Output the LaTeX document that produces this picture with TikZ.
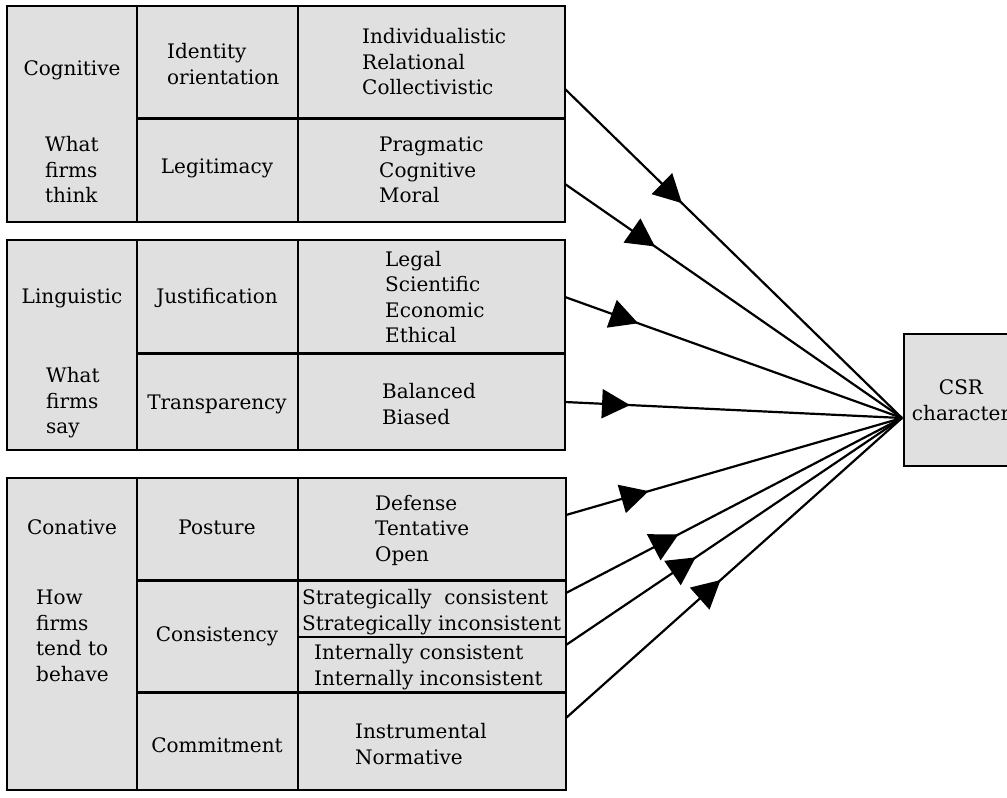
\documentclass[tikz,border=0pt]{standalone}
\usepackage{fontspec}
\setmainfont{DejaVu Serif}
\usetikzlibrary{arrows.meta,decorations.markings}
\definecolor{cellgray}{RGB}{224,224,224}
\tikzset{
  groupbox/.style={fill=cellgray, draw=black, line width=1.5pt},
  thickrule/.style={line width=3pt},
  thinrule/.style={line width=1.3pt},
  lbl/.style={font=\fontsize{20}{25.5}\selectfont, inner sep=0pt, align=center},
  lbll/.style={font=\fontsize{20}{25.5}\selectfont, inner sep=0pt, align=left, anchor=west},
  link/.style={line width=2.2pt, draw=black},
  midtri/.style={postaction={decorate, decoration={markings,
     mark=at position #1 with {\arrow{Triangle[length=28pt,width=29pt]}}}}}
}
\begin{document}
\begin{tikzpicture}[x=1pt,y=-1pt]
\useasboundingbox (0,0) rectangle (1007,798);
\clip (0,0) rectangle (1007,798);

% group boxes
\draw[groupbox] (7,6) rectangle (565,222);
\draw[groupbox] (7,240) rectangle (565,450);
\draw[groupbox] (7,478) rectangle (566,790);
% column rules
\foreach \ya/\yb in {6/222, 240/450, 478/790}{
  \draw[thinrule] (137,\ya) -- (137,\yb);
  \draw[thinrule] (298,\ya) -- (298,\yb);
}
% row rules
\draw[thickrule] (137,118) -- (565,118);
\draw[thickrule] (137,353) -- (565,353);
\draw[thickrule] (137,580) -- (566,580);
\draw[thickrule] (137,692) -- (566,692);
\draw[thinrule] (298,637) -- (566,637);

% box 1
\node[lbl] (cog) at (72,70) {Cognitive};
\node[lbll] (cogq) at (45,170) {What\\firms\\think};
\node[lbll] (ident) at (167,64) {Identity\\orientation};
\node[lbl] (legit) at (217,168) {Legitimacy};
\node[lbll] (identv) at (362,62) {Individualistic\\Relational\\Collectivistic};
\node[lbll] (legitv) at (379,170) {Pragmatic\\Cognitive\\Moral};

% box 2
\node[lbl] (ling) at (72,298) {Linguistic};
\node[lbll] (lingq) at (46,403) {What\\firms\\say};
\node[lbl] (just) at (217,298) {Justification};
\node[lbll] (justv) at (385,297) {Legal\\Scientific\\Economic\\Ethical};
\node[lbl] (transp) at (217,404) {Transparency};
\node[lbll] (transpv) at (382,404) {Balanced\\Biased};

% box 3
\node[lbl] (con) at (72,527) {Conative};
\node[lbll] (conq) at (36,636) {How\\firms\\tend to\\behave};
\node[lbl] (post) at (217,527) {Posture};
\node[lbll] (postv) at (375,530) {Defense\\Tentative\\Open};
\node[lbl] (consis) at (217,636) {Consistency};
\node[lbll] (consisa) at (302,612) {Strategically\ \ consistent\\Strategically inconsistent};
\node[lbll] (consisb) at (314,667) {Internally consistent\\Internally inconsistent};
\node[lbl] (commit) at (217,745) {Commitment};
\node[lbll] (commitv) at (355,744) {Instrumental\\Normative};

% CSR box
\node[groupbox, minimum width=120pt, minimum height=132pt, anchor=north west] (csrbox) at (903,333) {};
\node[lbl] (csr) at (961,400) {CSR\\character};

% connectors
\coordinate (hub) at (902,418);
\coordinate (s1) at (565,89);
\coordinate (s2) at (565,184);
\coordinate (s3) at (565,297);
\coordinate (s4) at (565,402);
\coordinate (s5) at (566,515);
\coordinate (s6) at (566,593);
\coordinate (s7) at (566,645);
\coordinate (s8) at (566,718);
\draw[link, midtri=0.347] (s1) -- (hub);
\draw[link, midtri=0.267] (s2) -- (hub);
\draw[link, midtri=0.217] (s3) -- (hub);
\draw[link, midtri=0.193] (s4) -- (hub);
\draw[link, midtri=0.246] (s5) -- (hub);
\draw[link, midtri=0.335] (s6) -- (hub);
\draw[link, midtri=0.386] (s7) -- (hub);
\draw[link, midtri=0.46] (s8) -- (hub);
\end{tikzpicture}
\end{document}
